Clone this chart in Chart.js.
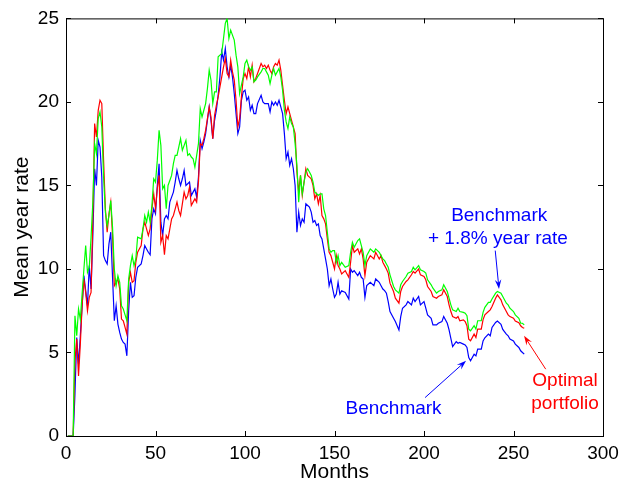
<!DOCTYPE html>
<html>
<head>
<meta charset="utf-8">
<script src="https://cdn.jsdelivr.net/npm/chart.js@4.4.0/dist/chart.umd.min.js"></script>
<style>
  html, body { margin: 0; padding: 0; background: #ffffff; }
  #grafico-box { width: 637px; height: 488px; }
</style>
</head>
<body>
<div id="grafico-box"><canvas id="graficoRentabilidad" width="637" height="488"></canvas></div>
<script>
// Meses de la serie (eje x)
const meses = [
  1, 4, 5, 6, 7, 8, 9, 10, 11, 12,
  13, 14, 15, 16, 17, 18, 19, 20, 21, 22,
  23, 24, 25, 26, 27, 28, 29, 30, 31, 32,
  33, 34, 35, 36, 37, 38, 39, 40, 42, 43,
  44, 45, 46, 47, 48, 49, 50, 51, 52, 53,
  54, 55, 56, 57, 58, 59, 60, 61, 62, 63,
  64, 65, 66, 67, 68, 69, 70, 71, 72, 73,
  74, 75, 76, 77, 78, 79, 80, 81, 82, 83,
  84, 85, 86, 87, 88, 89, 90, 91, 92, 93,
  94, 95, 96, 97, 98, 99, 100, 101, 102, 103,
  104, 105, 106, 107, 109, 110, 111, 112, 113, 114,
  115, 116, 117, 118, 119, 120, 121, 122, 123, 124,
  125, 126, 127, 128, 129, 130, 131, 132, 133, 134,
  135, 136, 137, 138, 139, 140, 141, 142, 143, 144,
  145, 146, 147, 148, 149, 150, 151, 152, 153, 154,
  156, 158, 159, 160, 161, 163, 164, 165, 166, 167,
  168, 170, 172, 173, 175, 176, 177, 178, 179, 180,
  181, 183, 184, 186, 187, 188, 190, 191, 193, 194,
  195, 197, 198, 200, 201, 202, 204, 205, 207, 208,
  210, 211, 213, 214, 215, 216, 218, 219, 220, 222,
  223, 224, 225, 226, 228, 229, 230, 232, 233, 234,
  236, 237, 238, 240, 241, 243, 244, 246, 247, 248,
  250, 251, 253, 254, 255, 256
];

// Benchmark (azul)
const benchmark = [
  0, 0, 2.5, 5.9, 4.3, 6.0, 7.8, 9.6, 8.7, 7.8,
  10.2, 8.8, 12.0, 16.0, 15.0, 17.7, 17.3, 15.5, 10.8, 10.5,
  10.3, 11.5, 12.2, 9.5, 6.9, 7.8, 6.7, 6.2, 5.8, 5.6,
  5.5, 4.8, 7.5, 9.2, 8.3, 8.4, 9.5, 10.1, 10.3, 10.8,
  11.4, 11.2, 11.0, 10.85, 13.0, 13.6, 13.3, 15.0, 16.3, 12.8,
  12.0, 13.0, 13.2, 13.0, 14.0, 14.3, 14.6, 15.2, 15.9, 15.4,
  15.0, 15.4, 15.9, 15.0, 15.1, 15.2, 14.4, 14.6, 14.8, 14.3,
  15.5, 17.7, 17.2, 17.6, 18.1, 18.9, 19.7, 18.9, 17.8, 18.9,
  19.5, 20.4, 21.5, 23.0, 22.5, 23.2, 22.1, 21.5, 22.2, 21.5,
  20.5, 19.3, 18.1, 18.5, 20.1, 20.6, 20.7, 20.1, 20.3, 19.5,
  19.8, 19.3, 19.3, 19.9, 20.4, 20.0, 19.9, 19.9, 19.9, 19.4,
  20.0, 19.8, 20.0, 19.8, 20.1, 19.7, 19.3, 18.1, 16.6, 17.0,
  16.2, 16.6, 16.0, 15.0, 12.2, 13.4, 12.6, 13.0, 12.8, 13.9,
  13.8, 13.7, 13.4, 12.8, 12.9, 12.6, 12.7, 12.0, 11.8, 11.2,
  10.6, 10.0, 9.0, 9.4, 8.8, 8.3, 8.5, 9.2, 8.5, 8.7,
  8.6, 8.2, 10.0, 9.8, 9.9, 9.6, 9.8, 9.5, 9.4, 8.3,
  9.0, 9.2, 9.0, 9.4, 9.2, 9.0, 8.8, 8.7, 8.55, 8.05,
  7.45, 7.05, 6.85, 6.35, 7.15, 7.65, 7.85, 8.05, 7.85, 8.25,
  8.05, 8.35, 7.85, 8.05, 7.65, 7.25, 7.05, 6.65, 6.65, 6.75,
  6.85, 7.15, 6.75, 6.35, 5.85, 5.35, 5.65, 5.55, 5.6, 5.5,
  5.45, 5.3, 4.7, 4.5, 4.9, 4.8, 5.2, 5.2, 5.69, 5.88,
  6.1, 6.0, 6.5, 6.8, 6.88, 6.68, 6.38, 6.1, 6.0, 5.8,
  5.69, 5.5, 5.3, 5.1, 5.0, 4.9
];

// Cartera óptima (rojo)
const carteraOptima = [
  0, 0, 4.5, 5.8, 3.6, 5.5, 7.8, 9.4, 8.6, 7.5,
  8.3, 8.6, 13.0, 18.7, 17.9, 19.5, 20.1, 19.9, 16.5, 13.6,
  12.2, 13.3, 14.0, 12.0, 9.0, 9.2, 9.4, 8.8, 7.0, 6.9,
  6.5, 6.1, 9.2, 9.8, 9.2, 9.3, 10.4, 11.0, 11.4, 12.4,
  12.8, 12.4, 12.0, 12.4, 13.6, 14.5, 13.6, 14.8, 15.6, 11.6,
  12.0, 10.85, 12.0, 11.8, 12.4, 13.0, 13.2, 13.6, 14.0, 13.5,
  13.2, 13.9, 14.6, 14.2, 14.4, 14.9, 13.8, 14.0, 14.2, 14.0,
  15.2, 17.5, 17.4, 17.8, 18.3, 19.0, 19.7, 19.1, 17.8, 19.2,
  19.8, 20.3, 20.9, 21.5, 22.1, 22.6, 21.7, 21.5, 22.5, 21.8,
  21.3, 20.1, 18.5, 19.0, 20.3, 21.4, 21.7, 21.4, 22.1, 21.5,
  22.2, 21.2, 21.4, 21.7, 22.3, 22.1, 22.2, 22.0, 22.2, 21.9,
  21.7, 22.1, 22.3, 22.2, 22.5, 21.9, 21.0, 20.1, 19.3, 19.7,
  19.3, 18.9, 18.5, 18.1, 15.8, 14.6, 15.6, 14.4, 15.2, 16.0,
  15.6, 15.5, 15.4, 15.0, 14.2, 14.5, 13.9, 14.4, 13.2, 13.0,
  12.7, 11.8, 11.0, 10.8, 10.4, 10.0, 10.8, 10.2, 10.0, 9.7,
  9.9, 9.5, 10.4, 11.4, 11.0, 11.2, 10.9, 11.2, 10.6, 9.6,
  10.4, 10.8, 10.6, 11.0, 10.6, 10.8, 10.4, 10.2, 10.0, 9.75,
  9.15, 8.65, 8.25, 7.95, 8.65, 8.95, 9.25, 9.35, 9.65, 9.85,
  9.75, 10.0, 9.65, 9.55, 9.35, 8.95, 8.65, 8.35, 8.25, 8.35,
  8.45, 8.75, 8.35, 7.85, 7.45, 7.15, 7.05, 7.15, 6.9, 6.95,
  6.85, 6.6, 5.8, 5.7, 6.1, 5.9, 6.4, 6.4, 6.97, 7.25,
  7.45, 7.55, 7.75, 8.25, 8.45, 8.15, 7.85, 7.45, 7.25, 7.15,
  7.05, 6.88, 6.78, 6.6, 6.5, 6.45
];

// Benchmark + 1.8% anual (verde)
const benchmarkMas = [
  0, 0, 7.2, 6.0, 7.6, 7.0, 8.5, 10.0, 11.4, 9.8,
  10.1, 11.9, 14.0, 17.5, 16.9, 19.0, 19.4, 18.5, 15.5, 13.4,
  12.6, 13.2, 14.1, 12.5, 10.0, 9.0, 9.6, 9.2, 7.8, 7.6,
  7.25, 6.9, 9.4, 10.2, 10.8, 10.2, 10.6, 11.9, 11.8, 12.4,
  13.2, 12.8, 13.4, 12.8, 13.8, 15.4, 15.2, 16.5, 18.3, 17.4,
  14.8, 15.0, 13.6, 15.0, 15.3, 15.6, 16.3, 16.8, 16.8, 17.3,
  17.8, 17.1, 17.4, 17.7, 16.8, 16.9, 16.7, 16.6, 16.1, 16.8,
  17.5, 19.6, 19.1, 19.5, 19.9, 20.8, 21.9, 21.3, 19.9, 20.6,
  20.6, 22.7, 22.8, 22.9, 23.8, 24.7, 25.0, 23.8, 24.3, 24.0,
  23.7, 22.8, 22.1, 20.5, 21.0, 21.5, 22.3, 22.5, 22.1, 21.9,
  22.1, 21.2, 21.3, 21.5, 21.8, 22.0, 22.0, 21.8, 21.6, 21.1,
  21.6, 22.0, 21.6, 21.8, 22.0, 21.5, 20.7, 19.5, 18.8, 18.4,
  19.1, 18.7, 18.5, 17.5, 16.2, 14.0, 15.6, 14.5, 15.2, 15.8,
  16.0, 15.8, 15.6, 15.2, 14.6, 14.5, 14.4, 14.5, 14.5, 13.6,
  13.2, 12.2, 11.2, 11.0, 11.1, 11.1, 10.4, 10.8, 10.2, 10.4,
  10.1, 10.2, 11.0, 11.6, 11.3, 11.7, 11.8, 11.4, 11.0, 10.2,
  10.8, 11.2, 11.0, 11.2, 11.0, 10.8, 10.6, 10.5, 10.3, 10.1,
  9.65, 8.95, 8.75, 8.55, 9.05, 9.25, 9.55, 9.75, 9.85, 10.1,
  9.95, 10.2, 9.95, 9.85, 9.75, 9.35, 9.05, 8.85, 8.55, 8.65,
  8.75, 9.05, 8.65, 8.25, 7.85, 7.55, 7.45, 7.65, 7.45, 7.4,
  7.35, 7.2, 6.4, 6.3, 6.6, 6.4, 6.9, 6.9, 7.4, 7.7,
  8.0, 8.0, 8.2, 8.55, 8.65, 8.55, 8.35, 7.95, 7.85, 7.65,
  7.45, 7.25, 7.05, 6.75, 6.75, 6.65
];

// Marcas de los ejes
const ticksX = [0, 50, 100, 150, 200, 250, 300];
const ticksY = [0, 5, 10, 15, 20, 25];

const fuente = "'Liberation Sans', Arial, Helvetica, sans-serif";
const AZUL = '#0000ff';
const ROJO = '#ff0000';
const VERDE = '#00ff00';

function puntos(valores) {
  return meses.map((m, i) => ({ x: m, y: valores[i] }));
}

// Flecha con punta rellena
function flecha(ctx, x1, y1, x2, y2, color) {
  const ang = Math.atan2(y2 - y1, x2 - x1);
  const largo = 10;
  const ancho = 0.33;
  ctx.strokeStyle = color;
  ctx.fillStyle = color;
  ctx.lineWidth = 1;
  ctx.beginPath();
  ctx.moveTo(x1, y1);
  ctx.lineTo(x2 - 5 * Math.cos(ang), y2 - 5 * Math.sin(ang));
  ctx.stroke();
  ctx.beginPath();
  ctx.moveTo(x2, y2);
  ctx.lineTo(x2 - largo * Math.cos(ang - ancho), y2 - largo * Math.sin(ang - ancho));
  ctx.lineTo(x2 - 6 * Math.cos(ang), y2 - 6 * Math.sin(ang));
  ctx.lineTo(x2 - largo * Math.cos(ang + ancho), y2 - largo * Math.sin(ang + ancho));
  ctx.closePath();
  ctx.fill();
}

// Marco estilo matlab con marcas hacia adentro
const marcoEjes = {
  id: 'marcoEjes',
  beforeDatasetsDraw(chart) {
    const { ctx, chartArea: a, scales: { x, y } } = chart;
    ctx.save();
    ctx.strokeStyle = '#000000';
    ctx.lineWidth = 1;
    ctx.strokeRect(a.left + 0.5, a.top + 0.5, a.right - a.left, a.bottom - a.top);
    ctx.beginPath();
    ticksX.forEach(v => {
      const px = Math.round(x.getPixelForValue(v)) + 0.5;
      ctx.moveTo(px, a.bottom);
      ctx.lineTo(px, a.bottom - 5);
      ctx.moveTo(px, a.top);
      ctx.lineTo(px, a.top + 5);
    });
    ticksY.forEach(v => {
      const py = Math.round(y.getPixelForValue(v)) + 0.5;
      ctx.moveTo(a.left, py);
      ctx.lineTo(a.left + 5, py);
      ctx.moveTo(a.right, py);
      ctx.lineTo(a.right - 5, py);
    });
    ctx.stroke();
    ctx.restore();
  },
  afterDatasetsDraw(chart) {
    const { ctx, scales: { x, y } } = chart;
    const px = v => x.getPixelForValue(v);
    const py = v => y.getPixelForValue(v);
    ctx.save();
    ctx.font = `19px ${fuente}`;
    ctx.textAlign = 'center';
    ctx.textBaseline = 'middle';

    ctx.fillStyle = AZUL;
    ctx.fillText('Benchmark', px(183), py(1.66));
    ctx.fillText('Benchmark', px(242), py(13.2));
    ctx.fillText('+ 1.8% year rate', px(241.3), py(11.8));

    ctx.fillStyle = ROJO;
    ctx.fillText('Optimal', px(278.8), py(3.3));
    ctx.fillText('portfolio', px(278.8), py(1.95));

    flecha(ctx, px(200.6), py(2.3), px(223.5), py(4.5), AZUL);
    flecha(ctx, px(239.8), py(11.1), px(241.9), py(8.8), AZUL);
    flecha(ctx, px(268), py(4.0), px(255.9), py(6.0), ROJO);
    ctx.restore();
  }
};

const ctx = document.getElementById('graficoRentabilidad').getContext('2d');

const miGrafico = new Chart(ctx, {
  type: 'line',
  data: {
    datasets: [
      { label: 'Benchmark + 1.8% year rate', data: puntos(benchmarkMas), borderColor: VERDE, order: 0 },
      { label: 'Optimal portfolio', data: puntos(carteraOptima), borderColor: ROJO, order: 1 },
      { label: 'Benchmark', data: puntos(benchmark), borderColor: AZUL, order: 2 }
    ]
  },
  options: {
    responsive: false,
    animation: false,
    devicePixelRatio: 1,
    layout: { padding: { left: 0, right: 34, top: 14, bottom: 0 } },
    elements: {
      point: { radius: 0 },
      line: { borderWidth: 1.2, tension: 0, fill: false }
    },
    plugins: {
      legend: { display: false },
      tooltip: { enabled: false }
    },
    scales: {
      x: {
        type: 'linear',
        min: 0,
        max: 300,
        afterFit: s => { s.height = 52; },
        grid: { display: false, drawTicks: false },
        border: { display: false },
        ticks: { stepSize: 50, padding: 6, color: '#000', font: { family: fuente, size: 19 } },
        title: { display: true, text: 'Months', color: '#000', font: { family: fuente, size: 21 }, padding: { top: 0, bottom: 3 } }
      },
      y: {
        min: 0,
        max: 25,
        afterFit: s => { s.width = 66; },
        grid: { display: false, drawTicks: false },
        border: { display: false },
        ticks: { stepSize: 5, padding: 7, color: '#000', font: { family: fuente, size: 19 } },
        title: { display: true, text: 'Mean year rate', color: '#000', font: { family: fuente, size: 21 }, padding: { top: 10, bottom: 0 } }
      }
    }
  },
  plugins: [marcoEjes]
});
</script>
</body>
</html>
